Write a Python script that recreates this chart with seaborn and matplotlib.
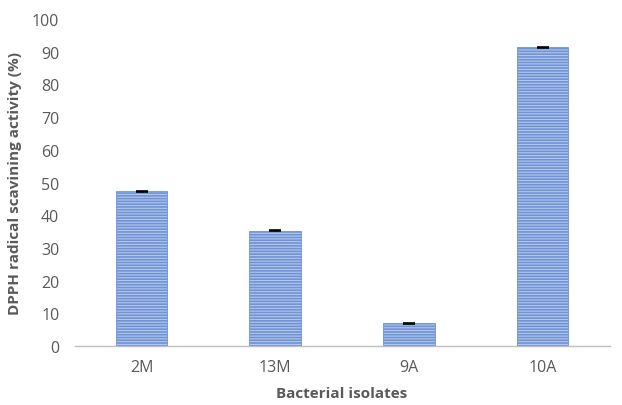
import numpy as np
import pandas as pd
import seaborn as sns
import matplotlib.pyplot as plt

# isolates and DPPH scavenging values
isolates = ['2M', '13M', '9A', '10A']
activity = [47.3, 35.3, 7.0, 91.3]
err = [0.2, 0.2, 0.2, 0.2]

df = pd.DataFrame({'isolate': isolates, 'activity': activity})

sns.set_style("white")
plt.rcParams['font.family'] = ['Open Sans', 'DejaVu Sans']
plt.rcParams['hatch.linewidth'] = 1.2
plt.rcParams['hatch.color'] = '#4472c4'

fig = plt.figure(figsize=(6.22, 4.06), dpi=100)
ax = fig.add_axes([0.12, 0.145, 0.86, 0.806])

sns.barplot(data=df, x='isolate', y='activity', color='#b4c7e7',
            width=0.385, saturation=1, ax=ax)

for p in ax.patches:
    p.set_hatch('------')
    p.set_edgecolor('#6f93d6')
    p.set_linewidth(0.6)

xs = [p.get_x() + p.get_width() / 2 for p in ax.patches]
ax.errorbar(xs, activity, yerr=err, fmt='none', ecolor='black',
            elinewidth=1, capsize=4, capthick=1.2)

ax.set_ylim(0, 100)
ax.set_yticks(np.arange(0, 101, 10))
ax.set_xlim(-0.5, 3.5)
ax.tick_params(axis='both', length=0, labelsize=11.5, colors='#595959')
ax.tick_params(axis='x', pad=9)
ax.tick_params(axis='y', pad=11)

for s in ['top', 'right', 'left']:
    ax.spines[s].set_visible(False)
ax.spines['bottom'].set_color('#bfbfbf')
ax.spines['bottom'].set_linewidth(1)

ax.set_xlabel('Bacterial isolates', fontsize=11, fontweight='bold',
              color='#595959', labelpad=8)
ax.set_ylabel('DPPH radical scavining activity (%)', fontsize=11,
              fontweight='bold', color='#595959', labelpad=7)

fig.savefig('out.png', dpi=100)
